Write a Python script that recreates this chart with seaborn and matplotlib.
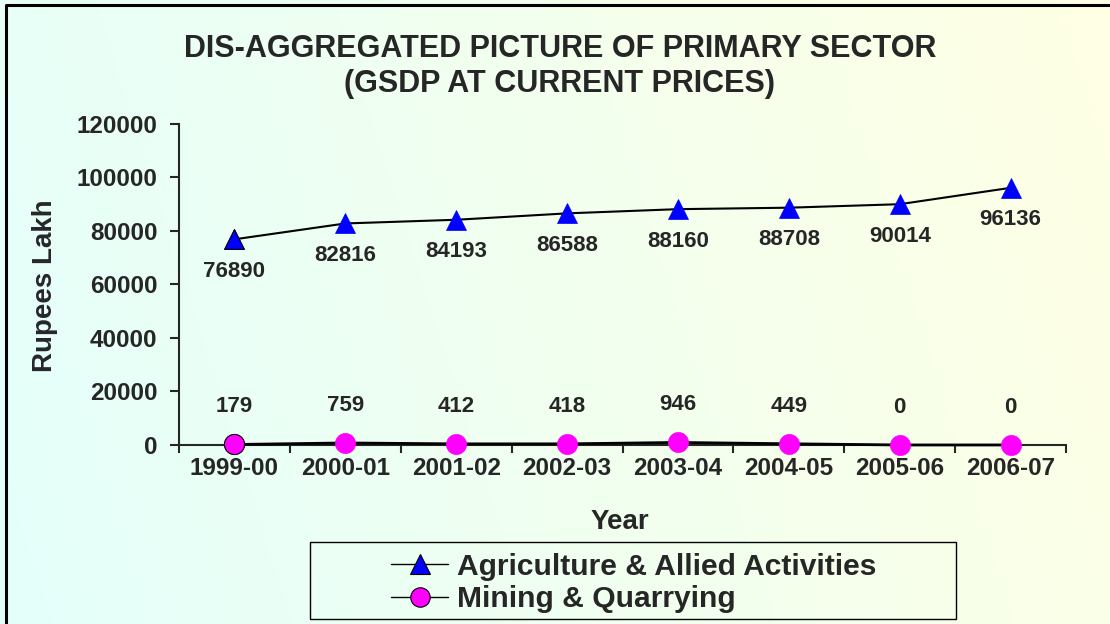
import numpy as np
import pandas as pd
import matplotlib.pyplot as plt
import matplotlib.patches as mpatches
from matplotlib.colors import LinearSegmentedColormap
from matplotlib.lines import Line2D
import seaborn as sns

# ---------------------------------------------------
# data
# ---------------------------------------------------
years = ["1999-00", "2000-01", "2001-02", "2002-03",
         "2003-04", "2004-05", "2005-06", "2006-07"]
agriculture = [76890, 82816, 84193, 86588, 88160, 88708, 90014, 96136]
mining = [179, 759, 412, 418, 946, 449, 0, 0]
y_ticks = [0, 20000, 40000, 60000, 80000, 100000, 120000]

title = "DIS-AGGREGATED PICTURE OF PRIMARY SECTOR\n(GSDP AT CURRENT PRICES)"
agri_name = "Agriculture & Allied Activities"
mining_name = "Mining & Quarrying"

sns.set_style("ticks")
plt.rcParams["font.family"] = ["Liberation Sans", "DejaVu Sans"]
plt.rcParams["font.weight"] = "bold"
plt.rcParams["axes.labelweight"] = "bold"

df = pd.DataFrame({
    "pos": np.arange(len(years)),
    "Year": years,
    "agri": agriculture,
    "mining": mining,
})

fig = plt.figure(figsize=(11.1, 6.24), dpi=100)

# ---------------------------------------------------
# background gradient (cyan -> pale yellow)
# ---------------------------------------------------
bg = fig.add_axes([0, 0, 1, 1], zorder=-10)
cmap = LinearSegmentedColormap.from_list("bg", ["#E4FFFB", "#FFFFE4"])
gx, gy = np.meshgrid(np.linspace(0, 1, 300), np.linspace(0, 1, 100))
bg.imshow(0.85 * gx + 0.15 * gy, cmap=cmap, aspect="auto",
          extent=[0, 1, 0, 1], origin="lower")
bg.set_axis_off()

# figure border: only left and top edges are visible
bx, by = 6 / 1110, 1 - 5 / 624
fig.lines.append(Line2D([bx, bx, 1.0], [0.0, by, by], transform=fig.transFigure,
                        color="black", linewidth=2.2))

# ---------------------------------------------------
# main axes
# ---------------------------------------------------
ax = fig.add_axes([0.1613, 0.2869, 0.7991, 0.5144])
ax.set_facecolor("none")

sns.lineplot(data=df, x="pos", y="agri", ax=ax, color="black", linewidth=1.5,
             marker="^", markersize=14, markerfacecolor="blue",
             markeredgecolor="blue", markeredgewidth=0.5, zorder=3)
sns.lineplot(data=df, x="pos", y="mining", ax=ax, color="black", linewidth=2,
             marker="o", markersize=14.5, markerfacecolor="#FF00FF",
             markeredgecolor="#FF00FF", markeredgewidth=0.5, zorder=3,
             clip_on=False)
# first markers carry a black outline
sns.scatterplot(data=df.iloc[:1], x="pos", y="agri", ax=ax, marker="^", s=200,
                color="blue", edgecolor="black", linewidth=0.8, zorder=4)
sns.scatterplot(data=df.iloc[:1], x="pos", y="mining", ax=ax, marker="o", s=210,
                color="#FF00FF", edgecolor="black", linewidth=0.8, zorder=4,
                clip_on=False)

for x, v in zip(df["pos"], df["agri"]):
    ax.annotate(str(v), (x, v), xytext=(0, -23), textcoords="offset points",
                ha="center", va="center", fontsize=16, fontweight="bold")
for x, v in zip(df["pos"], df["mining"]):
    ax.annotate(str(v), (x, v), xytext=(0, 27), textcoords="offset points",
                ha="center", va="center", fontsize=16, fontweight="bold")

ax.set_xlim(-0.5, len(years) - 0.5)
ax.set_ylim(0, 120000)
ax.set_xticks(df["pos"])
ax.set_xticklabels(years)
ax.set_xticks(np.arange(-0.5, len(years)), minor=True)
ax.set_yticks(y_ticks)
ax.set_yticklabels([str(v) for v in y_ticks])
ax.tick_params(axis="x", which="major", length=0, pad=9, labelsize=17.5)
ax.tick_params(axis="x", which="minor", length=6, width=1.5, direction="out")
ax.tick_params(axis="y", length=6.5, width=1.5, pad=9, labelsize=17.5)
sns.despine(ax=ax)
for s in ["left", "bottom"]:
    ax.spines[s].set_linewidth(1.5)

ax.set_xlabel("Year", fontsize=20, fontweight="bold")
ax.set_ylabel("Rupees Lakh", fontsize=20, fontweight="bold")
ax.xaxis.set_label_coords(0.497, -0.2)
ax.yaxis.set_label_coords(-0.136, 0.495)

fig.text(0.5045, 0.8934, title, ha="center", va="center", fontsize=22,
         fontweight="bold", linespacing=1.25)

# ---------------------------------------------------
# legend with its own box
# ---------------------------------------------------
handles = [
    Line2D([], [], color="black", linewidth=1, marker="^", markersize=14,
           markerfacecolor="blue", markeredgecolor="black", markeredgewidth=0.8),
    Line2D([], [], color="black", linewidth=1, marker="o", markersize=14,
           markerfacecolor="#FF00FF", markeredgecolor="black", markeredgewidth=0.8),
]
fig.legend(handles, [agri_name, mining_name], loc="center",
           bbox_to_anchor=(0.571, 0.066), frameon=False,
           handlelength=1.9, handletextpad=0.3, labelspacing=0.15,
           borderpad=0, prop={"weight": "bold", "size": 21.6})
fig.patches.append(mpatches.Rectangle(
    (310 / 1110, 1 - 619 / 624), (956 - 310) / 1110, (619 - 542) / 624,
    transform=fig.transFigure, fill=False, edgecolor="black", linewidth=1))

fig.savefig("out.png", dpi=100)
